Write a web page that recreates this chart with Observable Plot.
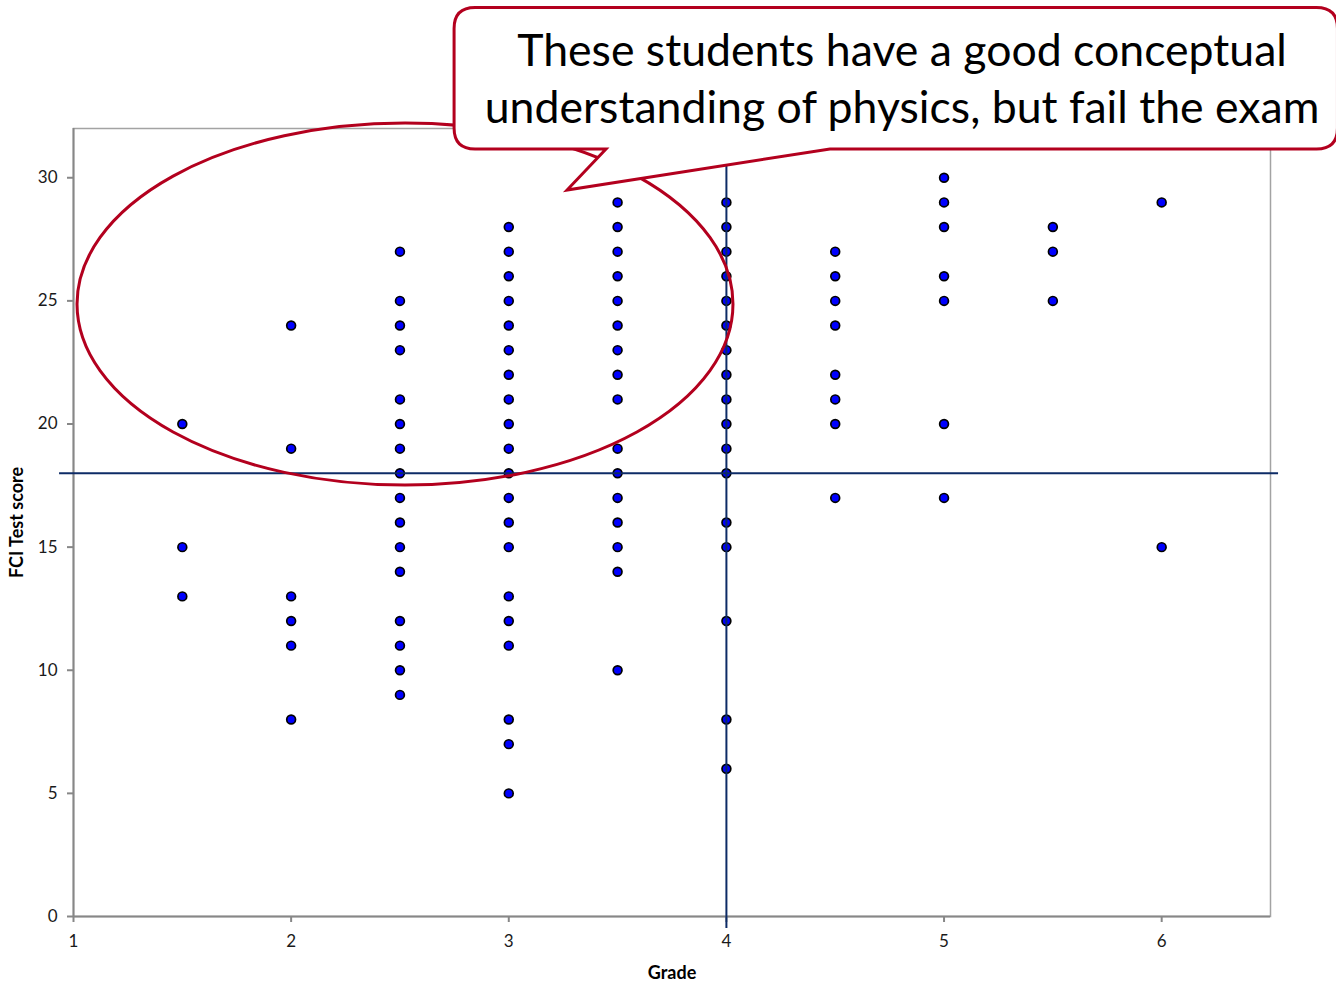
<!DOCTYPE html>
<html><head><meta charset="utf-8">
<script src="https://cdn.jsdelivr.net/npm/d3@7"></script>
<script src="https://cdn.jsdelivr.net/npm/@observablehq/plot@0.6"></script>
<style>
html,body{margin:0;padding:0;background:#fff}
#chart{position:absolute;left:0;top:0}
</style>
</head><body><div id="chart"></div>
<script>
// ---- data ----
const grades = [1.5, 2, 2.5, 3, 3.5, 4, 4.5, 5, 5.5, 6];
const scoresGrade15 = [20, 15, 13];
const scoresGrade20 = [24, 19, 13, 12, 11, 8];
const scoresGrade25 = [27, 25, 24, 23, 21, 20, 19, 18, 17, 16, 15, 14, 12, 11, 10, 9];
const scoresGrade30 = [28, 27, 26, 25, 24, 23, 22, 21, 20, 19, 18, 17, 16, 15, 13, 12, 11, 8, 7, 5];
const scoresGrade35 = [29, 28, 27, 26, 25, 24, 23, 22, 21, 19, 18, 17, 16, 15, 14, 10];
const scoresGrade40 = [29, 28, 27, 26, 25, 24, 23, 22, 21, 20, 19, 18, 16, 15, 12, 8, 6];
const scoresGrade45 = [27, 26, 25, 24, 22, 21, 20, 17];
const scoresGrade50 = [30, 29, 28, 26, 25, 20, 17];
const scoresGrade55 = [28, 27, 25];
const scoresGrade60 = [29, 15];
const scoresByGrade = [scoresGrade15, scoresGrade20, scoresGrade25, scoresGrade30, scoresGrade35,
                       scoresGrade40, scoresGrade45, scoresGrade50, scoresGrade55, scoresGrade60];

const xTicks = [1, 2, 3, 4, 5, 6];
const yTicks = [0, 5, 10, 15, 20, 25, 30];
const scoreThreshold = 18;   // horizontal reference line
const gradeThreshold = 4;    // vertical reference line
const xLabel = "Grade";
const yLabel = "FCI Test score";
const calloutLines = ["These students have a good conceptual", "understanding of physics, but fail the exam"];

// annotation geometry, in data units
const ellipseAnn = {cx: 2.5255, cy: 24.85, rx: 1.507, ry: 7.35};
const calloutAnn = {x1: 2.751, x2: 6.81, y1: 31.15, y2: 36.89,
                    tailLeft: 3.449, tailRight: 4.478, tipX: 3.27, tipY: 29.48,
                    textX: 4.807, textY: [35.1, 32.8]};

const points = grades.flatMap((g, i) => scoresByGrade[i].map(s => ({grade: g, score: s})));
const calloutText = calloutLines.map((t, i) => ({text: t, x: calloutAnn.textX, y: calloutAnn.textY[i]}));

const RED = "#b3001e";
const NAVY = "#0d2b66";
const AXIS = "#878787";

function ellipseMark(index, scales) {
  const sx = scales.x, sy = scales.y;
  const cx = sx(ellipseAnn.cx), cy = sy(ellipseAnn.cy);
  const rx = Math.abs(sx(ellipseAnn.cx + ellipseAnn.rx) - cx);
  const ry = Math.abs(sy(ellipseAnn.cy + ellipseAnn.ry) - cy);
  return d3.create("svg:ellipse")
    .attr("cx", cx).attr("cy", cy).attr("rx", rx).attr("ry", ry)
    .attr("fill", "none").attr("stroke", RED).attr("stroke-width", 3).node();
}

function calloutMark(index, scales) {
  const sx = scales.x, sy = scales.y, c = calloutAnn;
  const L = sx(c.x1), R = sx(c.x2), T = sy(c.y2), B = sy(c.y1);
  const bl = sx(c.tailLeft), br = sx(c.tailRight), tx = sx(c.tipX), ty = sy(c.tipY);
  const r = 21;
  const d = `M${L + r},${T} H${R - r} Q${R},${T} ${R},${T + r} V${B - r} Q${R},${B} ${R - r},${B} ` +
            `H${br} L${tx},${ty} L${bl},${B} H${L + r} Q${L},${B} ${L},${B - r} V${T + r} Q${L},${T} ${L + r},${T} Z`;
  return d3.create("svg:path").attr("d", d)
    .attr("fill", "#fff").attr("stroke", RED).attr("stroke-width", 3)
    .attr("stroke-linejoin", "miter").node();
}

const chart = Plot.plot({
  width: 1336,
  height: 984,
  marginLeft: 73,
  marginRight: 66,
  marginTop: 128,
  marginBottom: 68,
  style: {fontFamily: "Lato, 'Open Sans', sans-serif", background: "#fff", overflow: "visible"},
  x: {domain: [1, 6.5]},
  y: {domain: [0, 32]},
  marks: [
    Plot.frame({stroke: "#a3a3a3", strokeWidth: 1.5}),
    Plot.axisX({ticks: xTicks, tickSize: 6, tickPadding: 12, stroke: AXIS, strokeWidth: 2,
                fontSize: 17, fill: "#1a1a1a", label: null, tickFormat: d3.format("d")}),
    Plot.axisY({ticks: yTicks, tickSize: 6, tickPadding: 10, stroke: AXIS, strokeWidth: 2,
                fontSize: 17, fill: "#1a1a1a", label: null, tickFormat: d3.format("d")}),
    Plot.ruleY([0], {stroke: AXIS, strokeWidth: 2}),
    Plot.ruleX([1], {stroke: AXIS, strokeWidth: 2}),
    Plot.text([xLabel], {frameAnchor: "bottom", dy: 57, fontSize: 18, fontWeight: "bold", fill: "#000", lineAnchor: "middle"}),
    Plot.text([yLabel], {frameAnchor: "left", dx: -56, rotate: -90, fontSize: 18, fontWeight: "bold", fill: "#000", lineAnchor: "middle", textAnchor: "middle"}),
    Plot.dot(points, {x: "grade", y: "score", r: 4.4, fill: "#0000ff", stroke: "#000", strokeWidth: 1.7}),
    Plot.ruleY([scoreThreshold], {x1: 0.936, x2: 6.537, stroke: NAVY, strokeWidth: 2}),
    Plot.ruleX([gradeThreshold], {y1: -0.49, y2: 32, stroke: NAVY, strokeWidth: 2}),
    ellipseMark,
    calloutMark,
    Plot.text(calloutText, {x: "x", y: "y", text: "text", fontSize: 44.6, fill: "#000", lineAnchor: "middle", textAnchor: "middle"})
  ]
});
document.getElementById("chart").appendChild(chart);
</script>
</body></html>
